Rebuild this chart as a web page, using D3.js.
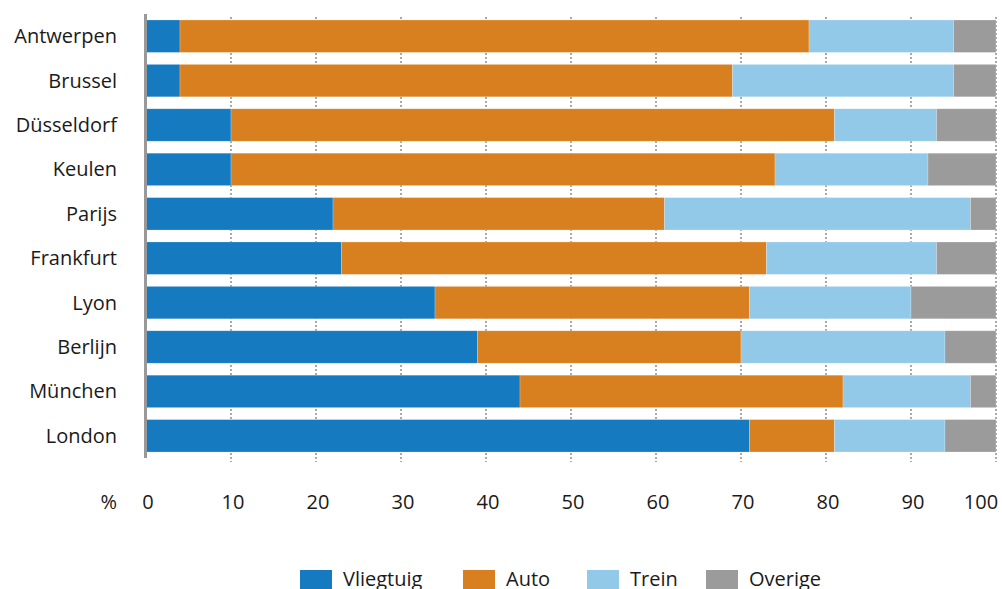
<!DOCTYPE html>
<html>
<head>
<meta charset="utf-8">
<script src="https://cdn.jsdelivr.net/npm/d3@7"></script>
<style>
  body { margin: 0; background: #fff; }
  svg text { font-family: "Open Sans", "Noto Sans", sans-serif; fill: #1a1a1a; }
</style>
</head>
<body>
<div id="wrapper"></div>
<script>
// Data
const cities = ["Antwerpen", "Brussel", "Düsseldorf", "Keulen", "Parijs",
  "Frankfurt", "Lyon", "Berlijn", "München", "London"];
const vliegtuig = [4, 4, 10, 10, 22, 23, 34, 39, 44, 71];
const auto = [74, 65, 71, 64, 39, 50, 37, 31, 38, 10];
const trein = [17, 26, 12, 18, 36, 20, 19, 24, 15, 13];
const overige = [5, 5, 7, 8, 3, 7, 10, 6, 3, 6];
const seriesNames = ["Vliegtuig", "Auto", "Trein", "Overige"];
const xTicks = [0, 10, 20, 30, 40, 50, 60, 70, 80, 90, 100];

const dataset = cities.map((c, i) => ({
  city: c,
  Vliegtuig: vliegtuig[i],
  Auto: auto[i],
  Trein: trein[i],
  Overige: overige[i],
}));

const colors = {
  Vliegtuig: "#167ac0",
  Auto: "#d8801f",
  Trein: "#92c9e8",
  Overige: "#9b9b9b",
};

// Dimensions
const dimensions = {
  width: 1002,
  height: 589,
  margins: { top: 14, right: 6, bottom: 131, left: 146 },
};
dimensions.boundedWidth =
  dimensions.width - dimensions.margins.left - dimensions.margins.right;
dimensions.boundedHeight =
  dimensions.height - dimensions.margins.top - dimensions.margins.bottom;

const wrapper = d3.select("#wrapper")
  .append("svg")
  .attr("width", dimensions.width)
  .attr("height", dimensions.height);

const bounds = wrapper.append("g")
  .attr("transform", `translate(${dimensions.margins.left},${dimensions.margins.top})`);

// Scales
const xScale = d3.scaleLinear()
  .domain([0, 100])
  .range([0, 850]);

const yScale = d3.scaleBand()
  .domain(cities)
  .range([0, dimensions.boundedHeight])
  .paddingInner(0.27)
  .paddingOuter(0.135);

// Grid lines (dotted, behind bars)
bounds.append("g")
  .selectAll("line")
  .data(xTicks.slice(1))
  .join("line")
  .attr("x1", d => xScale(d))
  .attr("x2", d => xScale(d))
  .attr("y1", 3)
  .attr("y2", dimensions.boundedHeight + 4)
  .attr("stroke", "#555")
  .attr("stroke-width", 1)
  .attr("stroke-dasharray", "2,2");

// Stacked bars
const stack = d3.stack().keys(seriesNames);
const stacked = stack(dataset);

bounds.append("g")
  .selectAll("g")
  .data(stacked)
  .join("g")
  .attr("fill", d => colors[d.key])
  .selectAll("rect")
  .data(d => d)
  .join("rect")
  .attr("x", d => xScale(d[0]))
  .attr("y", d => yScale(d.data.city))
  .attr("width", d => xScale(d[1]) - xScale(d[0]))
  .attr("height", yScale.bandwidth())
  .attr("stroke", "rgba(255,255,255,0.35)")
  .attr("stroke-width", 0.6);

// Left axis line
bounds.append("line")
  .attr("x1", -0.5)
  .attr("x2", -0.5)
  .attr("y1", 0)
  .attr("y2", dimensions.boundedHeight)
  .attr("stroke", "#999")
  .attr("stroke-width", 3);

// Category labels
bounds.append("g")
  .selectAll("text")
  .data(cities)
  .join("text")
  .attr("x", -29)
  .attr("y", d => yScale(d) + yScale.bandwidth() / 2)
  .attr("dy", "0.35em")
  .attr("text-anchor", "end")
  .style("font-size", "20px")
  .text(d => d);

// X tick labels
const tickY = 509;
wrapper.append("g")
  .selectAll("text")
  .data(xTicks)
  .join("text")
  .attr("x", d => dimensions.margins.left + xScale(d) + (d === 100 ? -15 : 2))
  .attr("y", tickY)
  .attr("text-anchor", "middle")
  .style("font-size", "20px")
  .text(d => d);

wrapper.append("text")
  .attr("x", 117)
  .attr("y", tickY)
  .attr("text-anchor", "end")
  .style("font-size", "20px")
  .text("%");

// Legend
const legendX = [300, 463, 587, 706];
const legend = wrapper.append("g");
const items = legend.selectAll("g")
  .data(seriesNames)
  .join("g")
  .attr("transform", (d, i) => `translate(${legendX[i]},570)`);

items.append("rect")
  .attr("width", 32)
  .attr("height", 19)
  .attr("fill", d => colors[d]);

items.append("text")
  .attr("x", 43)
  .attr("y", 16)
  .style("font-size", "20px")
  .text(d => d);
</script>
</body>
</html>
